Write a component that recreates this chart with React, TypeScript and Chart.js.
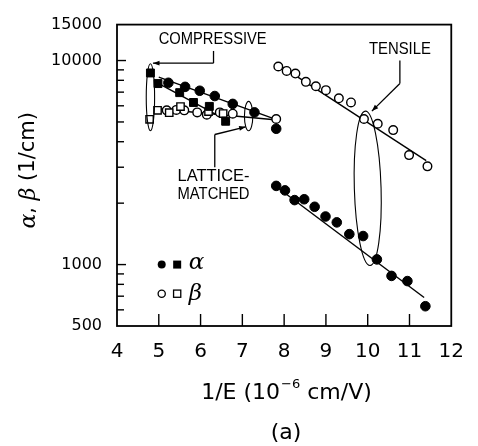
import React, { useEffect, useRef } from "react";
import { Chart, registerables } from "chart.js";
Chart.register(...registerables);

// ---- data (1/E in 1e-6 cm/V, coefficients in 1/cm) ----
const tensileAlphaX = [7.81, 8.02, 8.25, 8.48, 8.73, 8.99, 9.26, 9.56, 9.89, 10.22, 10.57, 10.95, 11.38];
const tensileAlpha = [2430, 2310, 2070, 2090, 1920, 1720, 1610, 1410, 1380, 1060, 880, 830, 625];
const tensileBetaX = [7.86, 8.06, 8.27, 8.52, 8.76, 9.0, 9.31, 9.6, 9.91, 10.24, 10.61, 10.99, 11.43];
const tensileBeta = [9350, 8890, 8630, 7860, 7480, 7160, 6530, 6230, 5170, 4900, 4560, 3440, 3030];

const compAlphaX = [4.8, 4.98, 5.5, 5.83, 6.21, 6.6];
const compAlpha = [8690, 7710, 6960, 6230, 5960, 5040];
const compBetaX = [4.78, 4.97, 5.25, 5.52, 6.19, 6.54];
const compBeta = [5150, 5700, 5550, 5950, 5620, 5500];

const latAlphaX = [5.23, 5.63, 5.98, 6.34, 6.77, 7.29, 7.81];
const latAlpha = [7780, 7430, 7110, 6700, 6130, 5570, 4630];
const latBetaX = [5.19, 5.42, 5.61, 5.92, 6.15, 6.46, 6.77, 7.81];
const latBeta = [5700, 5730, 5700, 5570, 5430, 5570, 5490, 5170];

// fitted lines (end points)
const fitTensileAlphaX = [7.8, 11.35];
const fitTensileAlpha = [2420, 690];
const fitTensileBetaX = [7.85, 11.4];
const fitTensileBeta = [9600, 3230];
const fitLatAlphaX = [5.0, 7.85];
const fitLatAlpha = [8300, 5100];
const fitCompAlphaX = [4.9, 6.7];
const fitCompAlpha = [7900, 5000];
const fitBetaX = [4.95, 7.9];
const fitBeta = [5800, 5100];

// axes
const xTickValues = [4, 5, 6, 7, 8, 9, 10, 11, 12];
const yTickValues = [500, 600, 700, 800, 900, 1000, 2000, 3000, 4000, 5000, 6000, 7000, 8000, 9000, 10000, 15000];
const yLabelled = [500, 1000, 10000, 15000];

const pts = (xs: number[], ys: number[]) => xs.map((x, i) => ({ x, y: ys[i] }));

const TICK_FONT = "'DejaVu Sans', sans-serif";
const LABEL_FONT = "'Liberation Sans', Arial, sans-serif";

const decorPlugin = {
  id: "decor",
  afterDatasetsDraw(chart: any) {
    const { ctx, chartArea: a, scales } = chart;
    const xs = scales.x, ys = scales.y;
    const X = (v: number) => xs.getPixelForValue(v);
    const Y = (v: number) => ys.getPixelForValue(v);
    const line = (x1: number, y1: number, x2: number, y2: number) => {
      ctx.beginPath(); ctx.moveTo(x1, y1); ctx.lineTo(x2, y2); ctx.stroke();
    };
    const arrow = (tx: number, ty: number, fx: number, fy: number) => {
      const ang = Math.atan2(ty - fy, tx - fx);
      const L = 7, s = 0.35;
      ctx.beginPath();
      ctx.moveTo(tx, ty);
      ctx.lineTo(tx - L * Math.cos(ang - s), ty - L * Math.sin(ang - s));
      ctx.lineTo(tx - L * Math.cos(ang + s), ty - L * Math.sin(ang + s));
      ctx.closePath(); ctx.fill();
    };
    ctx.save();
    ctx.strokeStyle = "#000";
    ctx.fillStyle = "#000";
    // frame
    ctx.lineWidth = 1.8;
    ctx.strokeRect(a.left, a.top, a.right - a.left, a.bottom - a.top);
    // y ticks (inside)
    ctx.lineWidth = 1.4;
    yTickValues.forEach((v) => {
      const py = Y(v);
      if (py <= a.top + 1 || py >= a.bottom - 1) return;
      const len = v === 1000 || v === 10000 ? 9 : 7;
      line(a.left, py, a.left + len, py);
    });
    // x ticks (inside)
    xTickValues.forEach((v) => {
      const px = X(v);
      if (px <= a.left + 1 || px >= a.right - 1) return;
      line(px, a.bottom, px, a.bottom - 12);
    });

    // ellipses
    ctx.lineWidth = 1.1;
    const ellipse = (cx: number, yTop: number, yBot: number, halfW: number, rot = 0) => {
      const px = X(cx), pt = Y(yTop), pb = Y(yBot);
      const rx = X(cx + halfW) - px;
      ctx.beginPath();
      ctx.ellipse(px, (pt + pb) / 2, rx, (pb - pt) / 2, rot, 0, 2 * Math.PI);
      ctx.stroke();
    };
    ellipse(4.8, 9640, 4530, 0.1);
    ellipse(7.15, 6310, 4530, 0.1);
    ellipse(10.0, 5650, 990, 0.32, -0.03);

    // leaders
    ctx.lineWidth = 1.3;
    // compressive
    line(X(4.86), Y(9710), X(6.31), Y(9710));
    line(X(6.31), Y(9710), X(6.31), Y(11140));
    arrow(X(4.86), Y(9710), X(5.3), Y(9710));
    // lattice-matched
    line(X(7.08), Y(4730), X(6.34), Y(4340));
    line(X(6.34), Y(4340), X(6.34), Y(3000));
    arrow(X(7.08), Y(4730), X(6.7), Y(4530));
    // tensile
    line(X(10.77), Y(10000), X(10.77), Y(7710));
    line(X(10.77), Y(7710), X(10.1), Y(5650));
    arrow(X(10.1), Y(5650), X(10.4), Y(6500));

    // annotation labels
    ctx.font = `17px ${LABEL_FONT}`;
    ctx.textAlign = "center";
    ctx.textBaseline = "middle";
    ctx.fillText("COMPRESSIVE", X(6.29), Y(12730), 108);
    ctx.fillText("TENSILE", X(10.77), Y(11390), 62);
    ctx.fillText("LATTICE-", X(6.31), Y(2710), 72);
    ctx.fillText("MATCHED", X(6.31), Y(2220), 72);

    // legend
    const lx1 = X(5.07), lx2 = X(5.44), lt = X(5.72);
    const r1 = Y(1000), r2 = Y(720);
    ctx.lineWidth = 1.3;
    ctx.beginPath(); ctx.arc(lx1, r1, 4, 0, 2 * Math.PI); ctx.fill();
    ctx.fillRect(lx2 - 4, r1 - 4, 8, 8);
    ctx.beginPath(); ctx.arc(lx1, r2, 3.6, 0, 2 * Math.PI); ctx.stroke();
    ctx.strokeRect(lx2 - 3.6, r2 - 3.6, 7.2, 7.2);
    ctx.font = `italic 23px 'DejaVu Serif', serif`;
    ctx.textAlign = "left";
    ctx.fillText("α", lt, r1 - 2);
    ctx.fillText("β", lt, r2);

    // x title
    ctx.textBaseline = "middle";
    const base = `22px ${TICK_FONT}`;
    const sup = `13px ${TICK_FONT}`;
    const p1 = "1/E (10", p2 = "−6", p3 = " cm/V)";
    ctx.font = base; const w1 = ctx.measureText(p1).width; const w3 = ctx.measureText(p3).width;
    ctx.font = sup; const w2 = ctx.measureText(p2).width;
    let sx = 286 - (w1 + w2 + w3) / 2;
    const ty = a.bottom + 67;
    ctx.textAlign = "left";
    ctx.font = base; ctx.fillText(p1, sx, ty); sx += w1;
    ctx.font = sup; ctx.fillText(p2, sx + 1, ty - 8); sx += w2 + 1;
    ctx.font = base; ctx.fillText(p3, sx, ty);
    ctx.textAlign = "center";
    ctx.fillText("(a)", 286, a.bottom + 107);

    // y title
    ctx.save();
    ctx.translate(29, (a.top + a.bottom) / 2 - 5);
    ctx.rotate(-Math.PI / 2);
    const parts: [string, string][] = [
      ["α", `italic 22px 'DejaVu Serif', serif`],
      [", ", `21px ${TICK_FONT}`],
      ["β", `italic 22px 'DejaVu Serif', serif`],
      [" (1/cm)", `21px ${TICK_FONT}`],
    ];
    let tw = 0;
    parts.forEach(([t, f]) => { ctx.font = f; tw += ctx.measureText(t).width; });
    let cx = -tw / 2;
    ctx.textAlign = "left";
    parts.forEach(([t, f]) => { ctx.font = f; ctx.fillText(t, cx, 0); cx += ctx.measureText(t).width; });
    ctx.restore();

    ctx.restore();
  },
};

export default function App() {
  const ref = useRef<HTMLCanvasElement | null>(null);
  useEffect(() => {
    if (!ref.current) return;
    const filled = (label: string, xs: number[], ys: number[], style: string) => ({
      label, data: pts(xs, ys), showLine: false, pointStyle: style,
      pointRadius: style === "rect" ? 5.6 : 4.8, pointBackgroundColor: "#000",
      pointBorderColor: "#000", pointBorderWidth: 1, order: 0,
    });
    const open = (label: string, xs: number[], ys: number[], style: string) => ({
      label, data: pts(xs, ys), showLine: false, pointStyle: style,
      pointRadius: style === "rect" ? 5.2 : 4.3, pointBackgroundColor: "#fff",
      pointBorderColor: "#000", pointBorderWidth: 1.4, order: 0,
    });
    const fit = (label: string, xs: number[], ys: number[]) => ({
      label, data: pts(xs, ys), showLine: true, pointRadius: 0,
      borderColor: "#000", borderWidth: 1.4, order: 10,
    });
    const chart = new Chart(ref.current, {
      type: "scatter",
      data: {
        datasets: [
          fit("fitTA", fitTensileAlphaX, fitTensileAlpha),
          fit("fitTB", fitTensileBetaX, fitTensileBeta),
          fit("fitLA", fitLatAlphaX, fitLatAlpha),
          fit("fitCA", fitCompAlphaX, fitCompAlpha),
          fit("fitB", fitBetaX, fitBeta),
          filled("tensile α", tensileAlphaX, tensileAlpha, "circle"),
          open("tensile β", tensileBetaX, tensileBeta, "circle"),
          filled("compressive α", compAlphaX, compAlpha, "rect"),
          open("compressive β", compBetaX, compBeta, "rect"),
          filled("lattice α", latAlphaX, latAlpha, "circle"),
          open("lattice β", latBetaX, latBeta, "circle"),
        ] as any,
      },
      options: {
        responsive: false,
        animation: false,
        layout: { padding: { top: 19, right: 15, left: 0, bottom: 0 } },
        plugins: { legend: { display: false }, tooltip: { enabled: false } },
        scales: {
          x: {
            type: "linear", min: 4, max: 12,
            grid: { display: false, drawTicks: false },
            border: { display: false },
            afterBuildTicks: (s: any) => { s.ticks = xTickValues.map((v) => ({ value: v })); },
            afterFit: (s: any) => { s.height = 120; },
            ticks: {
              autoSkip: false, maxRotation: 0, padding: 14, color: "#000",
              font: { family: TICK_FONT, size: 20 },
              callback: (v: any) => String(v),
            },
          },
          y: {
            type: "logarithmic", min: 500, max: 15000,
            grid: { display: false, drawTicks: false },
            border: { display: false },
            afterBuildTicks: (s: any) => { s.ticks = yTickValues.map((v) => ({ value: v })); },
            afterFit: (s: any) => { s.width = 117; },
            ticks: {
              autoSkip: false, padding: 15, color: "#000",
              font: { family: TICK_FONT, size: 16 },
              callback: (v: any) => (yLabelled.includes(Number(v)) ? String(v) : ""),
            },
          },
        },
      },
      plugins: [decorPlugin],
    } as any);
    return () => chart.destroy();
  }, []);
  return (
    <div style={{ position: "absolute", left: 0, top: 0, width: 478, height: 446, background: "#fff" }}>
      <canvas ref={ref} width={478} height={446} style={{ display: "block" }} />
    </div>
  );
}
